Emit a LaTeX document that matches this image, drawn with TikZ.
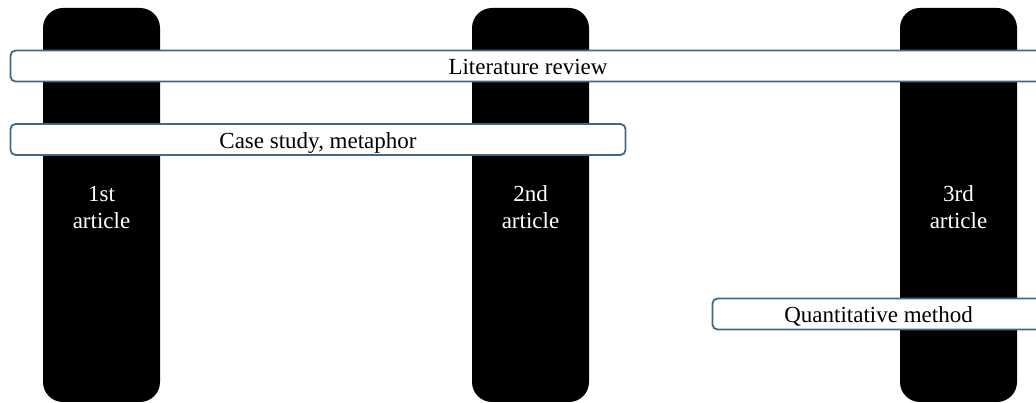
\documentclass[tikz,border=0pt]{standalone}
\usepackage{fontspec}
\setmainfont{Liberation Serif}
\definecolor{barline}{RGB}{65,105,135}

\begin{document}
\begin{tikzpicture}[x=1pt, y=1pt,
        article/.style={rectangle, rounded corners=20pt, fill=black, text=white, minimum width=117pt, minimum height=394pt, inner sep=0pt, align=center, text height=48pt, text depth=0pt, font=\fontsize{23}{27}\selectfont},
        method/.style={rectangle, rounded corners=5pt, draw=barline, line width=1.8pt, fill=white, minimum height=31pt, inner sep=0pt, text height=19pt, text depth=1pt, font=\fontsize{23}{27}\selectfont}]
        \clip (0,0) rectangle (1036,403);

        \node[article] (A1) at (101.5,198) {1st\\article};
        \node[article] (A2) at (530.5,198) {2nd\\article};
        \node[article] (A3) at (958.5,198) {3rd\\article};

        \node[method, minimum width=1035pt] (Lit) at (528,337) {Literature review};
        \node[method, minimum width=615pt] (Case) at (318,263.5) {Case study, metaphor};
        \node[method, minimum width=332pt] (Quant) at (878.5,89) {Quantitative method};
    \end{tikzpicture}
\end{document}
